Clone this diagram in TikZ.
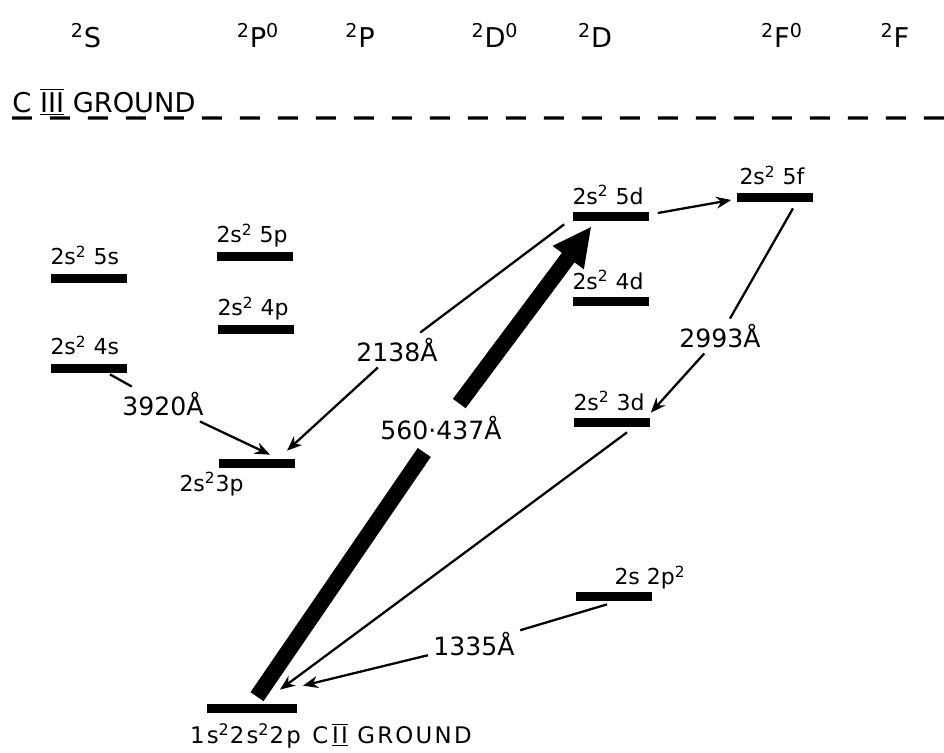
\documentclass[tikz,border=0pt]{standalone}
\usepackage{fontspec}
\setmainfont{DejaVu Sans}
\usetikzlibrary{arrows.meta,positioning,calc}
\newcommand{\romnum}[1]{$\overline{\underline{\hbox{#1}}}$}

\begin{document}
\begin{tikzpicture}[x=0.02cm, y=-0.02cm,
    lvl/.style={fill=black, inner sep=0pt, minimum width=1.54cm, minimum height=0.18cm},
    lvlname/.style={font=\fontsize{12.5}{14}\selectfont, inner sep=0pt, anchor=base west},
    wave/.style={font=\fontsize{14.3}{16}\selectfont, inner sep=3pt},
    trans/.style={line width=1.3pt, -{Stealth[length=3mm,width=2.4mm]}},
    pump/.style={line width=9pt}]
    \useasboundingbox (0,0) rectangle (944,752);

    % Term headings
    \foreach \x/\t/\nm in {86/{\textsuperscript{2}S}/tS, 258/{\textsuperscript{2}P\textsuperscript{0}}/tPo,
        360/{\textsuperscript{2}P}/tP, 495/{\textsuperscript{2}D\textsuperscript{0}}/tDo,
        595/{\textsuperscript{2}D}/tD, 782/{\textsuperscript{2}F\textsuperscript{0}}/tFo,
        895/{\textsuperscript{2}F}/tF}
        \node[font=\fontsize{15.5}{18}\selectfont, anchor=base] (\nm) at (\x,47) {\t};

    % C III limit
    \node[font=\fontsize{15.5}{17}\selectfont, anchor=base west, inner sep=0pt] (lim) at (12,112) {C \romnum{III} GROUND};
    \coordinate (limend) at (944,118);
    \draw[line width=1.8pt, dash pattern=on 0.4cm off 0.36cm] ([yshift=-0.12cm]lim.base west) -- (limend);

    % Levels
    \node[lvl] (b5s) at (89,278) {};
    \node[lvl] (b4s) at (89,368) {};
    \node[lvl] (b5p) at (255,256) {};
    \node[lvl] (b4p) at (256,329) {};
    \node[lvl] (b3p) at (257,463) {};
    \node[lvl] (b5d) at (611,216) {};
    \node[lvl] (b4d) at (611,301) {};
    \node[lvl] (b3d) at (612,422) {};
    \node[lvl] (b5f) at (775,197) {};
    \node[lvl] (b2p) at (614,596) {};
    \node[lvl, minimum width=1.8cm] (bgnd) at (252,708) {};

    % Level names
    \node[lvlname] (n5s) at ([yshift=0.17cm]b5s.north west) {2s\textsuperscript{2} 5s};
    \node[lvlname] (n4s) at ([yshift=0.17cm]b4s.north west) {2s\textsuperscript{2} 4s};
    \node[lvlname] (n5p) at ([yshift=0.17cm]b5p.north west) {2s\textsuperscript{2} 5p};
    \node[lvlname] (n4p) at ([yshift=0.17cm]b4p.north west) {2s\textsuperscript{2} 4p};
    \node[lvlname, anchor=north west] (n3p) at ([xshift=-0.78cm,yshift=-0.08cm]b3p.south west) {2s\textsuperscript{2}3p};
    \node[lvlname] (n5d) at ([yshift=0.14cm]b5d.north west) {2s\textsuperscript{2} 5d};
    \node[lvlname] (n4d) at ([yshift=0.14cm]b4d.north west) {2s\textsuperscript{2} 4d};
    \node[lvlname] (n3d) at ([yshift=0.14cm]b3d.north west) {2s\textsuperscript{2} 3d};
    \node[lvlname] (n5f) at ([xshift=0.06cm,yshift=0.15cm]b5f.north west) {2s\textsuperscript{2} 5f};
    \node[lvlname] (n2p) at ([xshift=0.78cm,yshift=0.13cm]b2p.north west) {2s 2p\textsuperscript{2}};
    \node[lvlname, font=\fontsize{13}{15}\selectfont\addfontfeatures{LetterSpace=10}, anchor=north west] (ngnd)
        at ([xshift=-0.34cm,yshift=-0.2cm]bgnd.south west)
        {1s\textsuperscript{2}2s\textsuperscript{2}2p\enspace C\,\romnum{II} GROUND};

    % Wavelengths
    \node[wave] (w3920) at (163,404) {3920Å};
    \node[wave] (w2138) at (397,350) {2138Å};
    \node[wave, inner ysep=7pt] (w560) at (441,428) {560·437Å};
    \node[wave] (w2993) at (720,336) {2993Å};
    \node[wave] (w1335) at (474,644) {1335Å};

    % Pumping line
    \draw[pump] ([xshift=0.1cm,yshift=0.13cm]bgnd.north) -- (w560);
    \draw[pump, -{Triangle[length=0.78cm,width=0.72cm]}] (w560) -- ([xshift=-0.39cm,yshift=-0.11cm]b5d.south);

    % Cascade
    \draw[line width=1.3pt] ([xshift=0.42cm,yshift=-0.03cm]b4s.south) -- (w3920);
    \draw[trans] (w3920) -- ([xshift=0.26cm,yshift=0.07cm]b3p.north);
    \draw[line width=1.3pt] ([xshift=-0.16cm,yshift=-0.07cm]b5d.south west) -- (w2138);
    \draw[trans] (w2138) -- ([xshift=0.6cm,yshift=0.15cm]b3p.north);
    \draw[trans] ([xshift=0.16cm,yshift=0.06cm]b5d.east) -- ([xshift=-0.1cm,yshift=-0.06cm]b5f.west);
    \draw[line width=1.3pt] ([xshift=0.36cm,yshift=-0.13cm]b5f.south) -- (w2993);
    \draw[trans] (w2993) -- ([yshift=0.09cm]b3d.north east);
    \draw[trans] ([xshift=0.3cm,yshift=-0.11cm]b3d.south) -- ([xshift=0.56cm,yshift=0.27cm]bgnd.north);
    \draw[line width=1.3pt] ([xshift=-0.14cm,yshift=-0.07cm]b2p.south) -- (w1335);
    \draw[trans] (w1335) -- ([xshift=1.02cm,yshift=0.35cm]bgnd.north);
\end{tikzpicture}
\end{document}
